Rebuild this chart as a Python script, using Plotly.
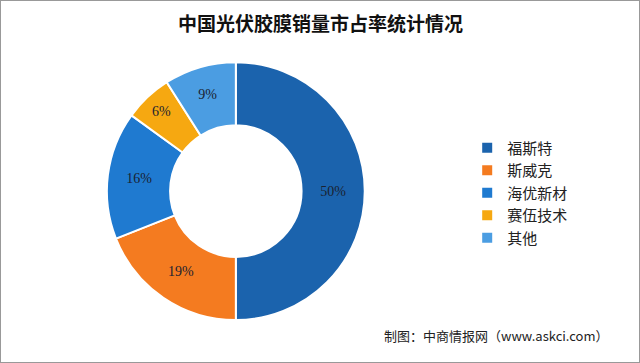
import plotly.graph_objects as go

labels = ["福斯特", "斯威克", "海优新材", "赛伍技术", "其他"]
values = [50, 19, 16, 6, 9]
colors = ["#1b63ad", "#f47b20", "#1f7ad0", "#f6a811", "#4b9de2"]
title = "中国光伏胶膜销量市占率统计情况"
source = "制图：中商情报网（www.askci.com）"

fig = go.Figure(go.Pie(
    labels=labels, values=values, hole=0.51, sort=False, direction="clockwise",
    rotation=0,
    marker=dict(colors=colors, line=dict(color="white", width=2)),
    texttemplate="%{value}%", textposition="inside", insidetextorientation="horizontal",
    textfont=dict(family="Liberation Serif", size=14, color="#1a2230"),
    domain=dict(x=[0.167, 0.570], y=[0.118, 0.829]),
))
fig.update_layout(
    width=640, height=363, margin=dict(l=0, r=0, t=0, b=0),
    paper_bgcolor="white", plot_bgcolor="white",
    showlegend=True,
    legend=dict(x=0.73, y=0.468, xanchor="left", yanchor="middle",
                font=dict(family="Noto Sans CJK SC", size=15, color="#222"),
                itemwidth=30, tracegroupgap=0, bgcolor="rgba(0,0,0,0)"),
    annotations=[
        dict(text="<b>" + title + "</b>", x=0.5, y=0.937, xref="paper", yref="paper",
             yanchor="middle",
             showarrow=False, font=dict(family="Noto Sans CJK SC", size=19, color="#111")),
        dict(text=source, x=0.955, y=0.077, xref="paper", yref="paper", xanchor="right",
             yanchor="middle",
             showarrow=False, font=dict(family="Noto Sans CJK SC", size=13, color="#222")),
    ],
    shapes=[dict(type="rect", xref="paper", yref="paper", x0=0, y0=0, x1=1, y1=1,
                 line=dict(color="#999", width=2))],
)
fig.write_html("out.html")
